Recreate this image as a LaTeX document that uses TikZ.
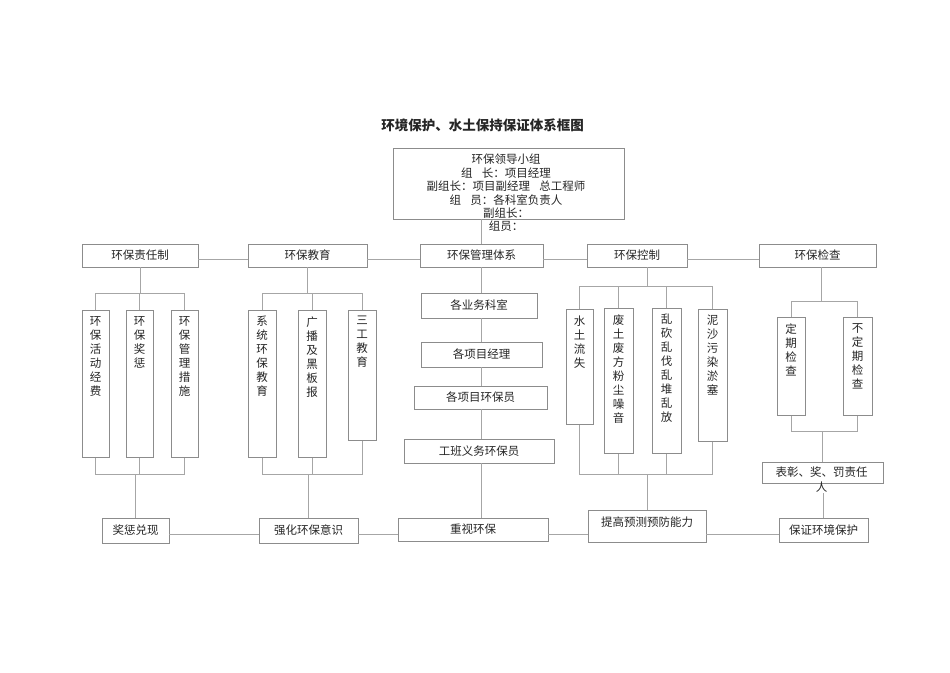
\documentclass[tikz,border=0pt]{standalone}
\usepackage{fontspec}
\setmainfont{Noto Sans CJK SC}
\usepackage{tikz}
\usepackage{xcolor}
\newcommand{\linecolor}{black!35!white}
\newcommand{\boxcolor}{black!45!white}
\newcommand{\inkcolor}{black!85!white}
\newcommand{\boxfont}{\fontsize{11.5}{14}\selectfont}
\newcommand{\rowy}{259}
\newcommand{\basey}{534}
\newcommand{\mergey}{474}
\newcommand{\vcol}[2]{\parbox[c][#1pt][t]{14pt}{\centering\vspace*{6pt}#2}}

\begin{document}
\begin{tikzpicture}[x=1pt, y=-1pt,
    box/.style={draw=\boxcolor, fill=white, line width=0.8pt, inner sep=0pt, text=\inkcolor, font=\boxfont},
    vbox/.style={box, anchor=north},
    ln/.style={draw=\linecolor, line width=0.8pt}]
    \fill[white] (0,0) rectangle (950,672);

    % title
    \node[text=\inkcolor, font=\fontsize{13.5}{16}\selectfont\bfseries] (title) at (482.5,125) {环境保护、水土保持保证体系框图};

    % leading group
    \node[box, minimum width=231, minimum height=71] (lead) at (508.5,183.5) {};
    \node[text=\inkcolor, font=\fontsize{11.5}{13.4}\selectfont, align=center, anchor=north, inner sep=0pt] (leadtxt) at (506,154)
        {环保领导小组\\组\hspace{0.8em}长：项目经理\\副组长：项目副经理\hspace{0.8em}总工程师\\组\hspace{0.8em}员：各科室负责人\\副组长：\\组员：};

    % first row
    \node[box, minimum width=116, minimum height=23] (resp) at (140,255.5) {环保责任制};
    \node[box, minimum width=119, minimum height=23] (edu) at (307.5,255.5) {环保教育};
    \node[box, minimum width=123, minimum height=23] (sys) at (481.5,255.5) {环保管理体系};
    \node[box, minimum width=100, minimum height=23] (ctrl) at (637,255.5) {环保控制};
    \node[box, minimum width=117, minimum height=23] (chk) at (817.5,255.5) {环保检查};

    % upright boxes
    \node[vbox, minimum width=27] (r1) at (95.5,310) {\vcol{147}{环\\保\\活\\动\\经\\费}};
    \node[vbox, minimum width=27] (r2) at (139.5,310) {\vcol{147}{环\\保\\奖\\惩}};
    \node[vbox, minimum width=27] (r3) at (184.5,310) {\vcol{147}{环\\保\\管\\理\\措\\施}};
    \node[vbox, minimum width=28] (e1) at (262,310) {\vcol{147}{系\\统\\环\\保\\教\\育}};
    \node[vbox, minimum width=28] (e2) at (312,310) {\vcol{147}{广\\播\\及\\黑\\板\\报}};
    \node[vbox, minimum width=28] (e3) at (362,310) {\vcol{130}{三\\工\\教\\育}};
    \node[vbox, minimum width=27] (c1) at (579.5,309) {\vcol{115}{水\\土\\流\\失}};
    \node[vbox, minimum width=29] (c2) at (618.5,308) {\vcol{145}{废\\土\\废\\方\\粉\\尘\\噪\\音}};
    \node[vbox, minimum width=29] (c3) at (666.5,308) {\vcol{145}{乱\\砍\\乱\\伐\\乱\\堆\\乱\\放}};
    \node[vbox, minimum width=29] (c4) at (712.5,309) {\vcol{132}{泥\\沙\\污\\染\\淤\\塞}};
    \node[vbox, minimum width=28] (k1) at (791,317) {\vcol{98}{定\\期\\检\\查}};
    \node[vbox, minimum width=29] (k2) at (857.5,317) {\vcol{98}{不\\定\\期\\检\\查}};

    % middle column
    \node[box, minimum width=116, minimum height=25] (m1) at (479,305.5) {各业务科室};
    \node[box, minimum width=121, minimum height=25] (m2) at (481.5,354.5) {各项目经理};
    \node[box, minimum width=133, minimum height=23] (m3) at (480.5,397.5) {各项目环保员};
    \node[box, minimum width=150, minimum height=24] (m4) at (479,451) {工班义务环保员};

    % reward box, its text runs out below
    \node[box, minimum width=121, minimum height=21] (bz) at (822.5,472.5) {};
    \node[text=\inkcolor, font=\fontsize{11.5}{15}\selectfont, align=center, anchor=north, inner sep=0pt] (bztxt) at (821.5,467) {表彰、奖、罚责任\\人};

    % last row
    \node[box, minimum width=67, minimum height=25] (jc) at (135.5,530.5) {奖惩兑现};
    \node[box, minimum width=99, minimum height=25] (qh) at (308.5,530.5) {强化环保意识};
    \node[box, minimum width=150, minimum height=23] (zs) at (473,529.5) {重视环保};
    \node[box, minimum width=118, minimum height=32, text depth=8pt] (tg) at (647,526) {提高预测预防能力};
    \node[box, minimum width=89, minimum height=24] (bg) at (823.5,530) {保证环境保护};

    % drop points under the first row
    \coordinate (respdown) at (resp.south);
    \coordinate (edudown) at (edu.south);
    \coordinate (ctrldown) at (ctrl.south -| tg.north);
    \coordinate (chkdown) at ([xshift=3.5pt]chk.south);

    % connectors
    \draw[ln] (lead.south -| sys.north) -- (sys.north);
    \foreach \a/\b in {resp/edu, edu/sys, sys/ctrl, ctrl/chk}
        \draw[ln] (\a.east |- 0,\rowy) -- (\b.west |- 0,\rowy);
    \foreach \a/\b in {jc/qh, qh/zs, zs/tg, tg/bg}
        \draw[ln] (\a.east |- 0,\basey) -- (\b.west |- 0,\basey);
    \foreach \a/\b in {sys/m1, m1/m2, m2/m3, m3/m4, m4/zs}
        \draw[ln] (\a.south -| sys.south) -- (\b.north -| sys.south);
    \foreach \s/\p/\lvl in {r1/respdown/293, r2/respdown/293, r3/respdown/293,
        e1/edudown/293, e2/edudown/293, e3/edudown/293,
        c1/ctrldown/286, c2/ctrldown/286, c3/ctrldown/286, c4/ctrldown/286,
        k1/chkdown/301, k2/chkdown/301}
        \draw[ln] (\s.north) |- (\p |- 0,\lvl) -- (\p);
    \foreach \s/\q/\lvl in {r1/jc/\mergey, r2/jc/\mergey, r3/jc/\mergey,
        e1/qh/\mergey, e2/qh/\mergey, e3/qh/\mergey,
        c1/tg/\mergey, c2/tg/\mergey, c3/tg/\mergey, c4/tg/\mergey,
        k1/bz/431, k2/bz/431}
        \draw[ln] (\s.south) |- (\q.north |- 0,\lvl) -- (\q.north);
    \draw[ln] (bztxt.south -| bg.north) -- (bg.north);
\end{tikzpicture}
\end{document}
